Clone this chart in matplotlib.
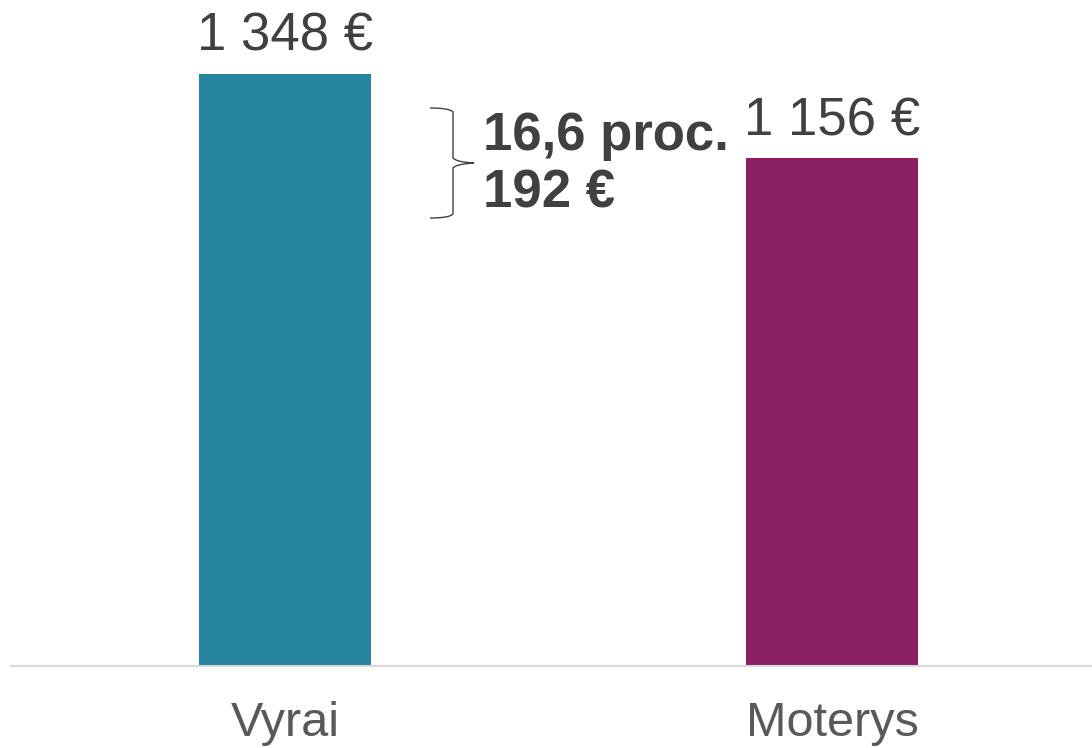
import matplotlib
matplotlib.use("Agg")
import matplotlib.pyplot as plt
from matplotlib.path import Path
from matplotlib.patches import PathPatch

categories = ["Vyrai", "Moterys"]
values = [1348, 1156]
value_labels = ["1 348 €", "1 156 €"]
colors = ["#26849E", "#8A2062"]
gap_pct_label = "16,6 proc."
gap_eur_label = "192 €"

plt.rcParams['font.family'] = ['Liberation Sans', 'DejaVu Sans']

fig = plt.figure(figsize=(10.92, 7.48), dpi=100)
ax = fig.add_axes([11/1092, 1-666/748, 1-11/1092, 666/748])
x = [0, 1]
ax.bar(x, values, width=0.3144, color=colors, zorder=2)
ax.set_xlim(-0.501, 1.475)
ax.set_ylim(0, 1516)
for s in ["top", "right", "left"]:
    ax.spines[s].set_visible(False)
ax.spines["bottom"].set_color("#D9D9D9")
ax.spines["bottom"].set_linewidth(1.5)
ax.set_yticks([])
ax.set_xticks(x)
ax.set_xticklabels(categories, fontsize=35, color="#595959")
ax.tick_params(axis="x", length=0, pad=25)

for xi, v, lab in zip(x, values, value_labels):
    ax.annotate(lab, (xi, v), xytext=(0, 16.5), textcoords="offset points",
                ha="center", va="baseline", fontsize=38, color="#404040")

# bracket in figure pixel coordinates
def fp(px, py):
    return (px/1092, 1-py/748)

verts = [fp(430, 108), fp(450, 108), fp(453, 112), fp(453, 158),
         fp(456, 162), fp(474, 163), fp(456, 164), fp(453, 168),
         fp(453, 214), fp(450, 218), fp(430, 218)]
codes = [Path.MOVETO, Path.CURVE3, Path.CURVE3, Path.LINETO,
         Path.CURVE3, Path.CURVE3, Path.CURVE3, Path.CURVE3,
         Path.LINETO, Path.CURVE3, Path.CURVE3]
fig.patches.append(PathPatch(Path(verts, codes), transform=fig.transFigure,
                             fill=False, edgecolor="#404040", linewidth=1.0))

fig.text(483/1092, 1-150/748, gap_pct_label, fontsize=38, fontweight="bold",
         color="#404040", ha="left", va="baseline")
fig.text(483/1092, 1-207/748, gap_eur_label, fontsize=38, fontweight="bold",
         color="#404040", ha="left", va="baseline")

fig.savefig("out.png", dpi=100)
